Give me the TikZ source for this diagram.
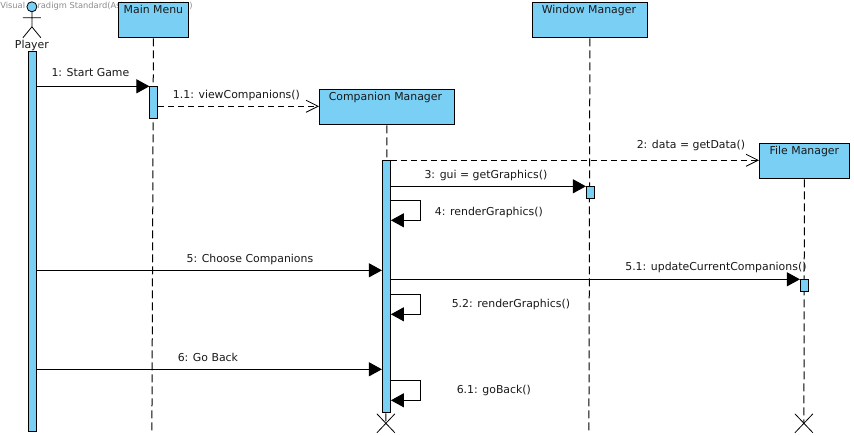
\documentclass[tikz,border=0pt]{standalone}
\usepackage{fontspec}
\setmainfont{DejaVu Sans}
\usetikzlibrary{arrows.meta}
\definecolor{fillb}{HTML}{7ACFF5}
\tikzset{
 x=1pt,y=-1pt,
 every node/.style={font=\fontsize{10.9}{13}\selectfont,text=black!90,inner sep=0pt},
 objbox/.style={draw=black,line width=1pt,fill=fillb,anchor=north west,inner sep=0pt},
 lifeline/.style={draw=black,line width=1pt,dash pattern=on 8pt off 4pt},
 bar/.style={draw=black,line width=1pt,fill=fillb,anchor=north west,inner sep=0pt,minimum width=8pt},
 sync/.style={draw=black,line width=1pt,-{Triangle[length=13pt,width=14pt]}},
 ret/.style={draw=black,line width=1pt,dash pattern=on 6pt off 4pt,-{Straight Barb[length=12pt,width=12pt,line width=.8pt]}},
 msg/.style={anchor=base,yshift=-1pt,xshift=.5pt},
 xmark/.style={draw=black,line width=.8pt}
}
\newcommand{\objnode}[7]{\node[objbox,minimum width=#3pt,minimum height=#4pt] (#5) at (#1,#2) {};
 \node[anchor=base] (#5t) at ([yshift=-11.5pt,xshift=#7pt]#5.north) {#6};}
\newcommand{\barnode}[4]{\node[bar,minimum height=#3pt] (#4) at (#1,#2) {};}
\begin{document}
\begin{tikzpicture}
\useasboundingbox (0.6,0.2) rectangle (854.6,436.2);
\fill[white] (0.6,0.2) rectangle (854.6,436.2);
\node[anchor=base west,font=\fontsize{8.3}{10}\selectfont,text=black!45] (wm) at (0.75,9) {Visual Paradigm Standard(Ask Adams (Univ.) )};
\coordinate (mend) at (152.5,431);
\coordinate (cend) at (386.5,424);
\coordinate (wend) at (589.5,431);
\coordinate (fend) at (804.5,424);
\objnode{118.5}{2.5}{70}{35}{main}{Main Menu}{0}
\objnode{319.5}{89.5}{135}{35}{comp}{Companion Manager}{-1.5}
\objnode{532.5}{2.5}{115}{35}{win}{Window Manager}{-1}
\objnode{759.5}{143.5}{90}{35}{file}{File Manager}{0}
\path[lifeline] (main.south) -- (mend);
\path[lifeline] (comp.south) -- (cend);
\path[lifeline] (win.south) -- (wend);
\path[lifeline] (file.south) -- (fend);
% actor
\coordinate (neck) at (32.5,12);
\draw[fill=fillb,line width=.8pt] (32.5,7) circle (5);
\draw[line width=.8pt] (neck) -- (32.5,27) (23.5,18) -- (41.5,18) (23.5,38) -- (32.5,27) -- (41.5,38);
\node[anchor=base] (player) at (32.5,48.5) {Player};
% bars
\barnode{28.5}{51.5}{380}{pa}
\barnode{150}{86.5}{32}{ma}
\barnode{382.5}{160.5}{252}{ca}
\barnode{586.5}{186.5}{12}{wa}
\barnode{800.5}{279.5}{12}{fa}
% messages
\draw[sync] (pa.east |- 0,86.5) -- (ma.west |- 0,86.5);
\node[msg] (m1) at (90.5,76) {1: Start Game};
\draw[ret] (ma.east |- 0,106.5) -- (comp.west |- 0,106.5);
\node[msg] (m11) at (236.5,98) {1.1: viewCompanions()};
\draw[ret] (ca.north east) -- (file.west |- ca.north east);
\node[msg] (m2) at (691,148) {2: data = getData()};
\draw[sync] (ca.east |- 0,186.5) -- (wa.west |- 0,186.5);
\node[msg] (m3) at (486,178) {3: gui = getGraphics()};
\draw[sync] (ca.east |- 0,200.5) -- ++(30,0) -- ++(0,20) -- (ca.east |- 0,220.5);
\node[msg] (m4) at (489,215) {4: renderGraphics()};
\draw[sync] (pa.east |- 0,270.5) -- (ca.west |- 0,270.5);
\node[msg] (m5) at (250,262) {5: Choose Companions};
\draw[sync] (ca.east |- 0,279.5) -- (fa.west |- 0,279.5);
\node[msg] (m51) at (716,270) {5.1: updateCurrentCompanions()};
\draw[sync] (ca.east |- 0,294.5) -- ++(30,0) -- ++(0,20) -- (ca.east |- 0,314.5);
\node[msg] (m52) at (511,307) {5.2: renderGraphics()};
\draw[sync] (pa.east |- 0,369.5) -- (ca.west |- 0,369.5);
\node[msg] (m6) at (208,361) {6: Go Back};
\draw[sync] (ca.east |- 0,380.5) -- ++(30,0) -- ++(0,20) -- (ca.east |- 0,400.5);
\node[msg] (m61) at (494,393) {6.1: goBack()};
% destroy marks
\draw[xmark] (377.5,414) -- (395.5,433) (395.5,414) -- (377.5,433);
\draw[xmark] (795.5,414) -- (813.5,433) (813.5,414) -- (795.5,433);
\end{tikzpicture}
\end{document}
